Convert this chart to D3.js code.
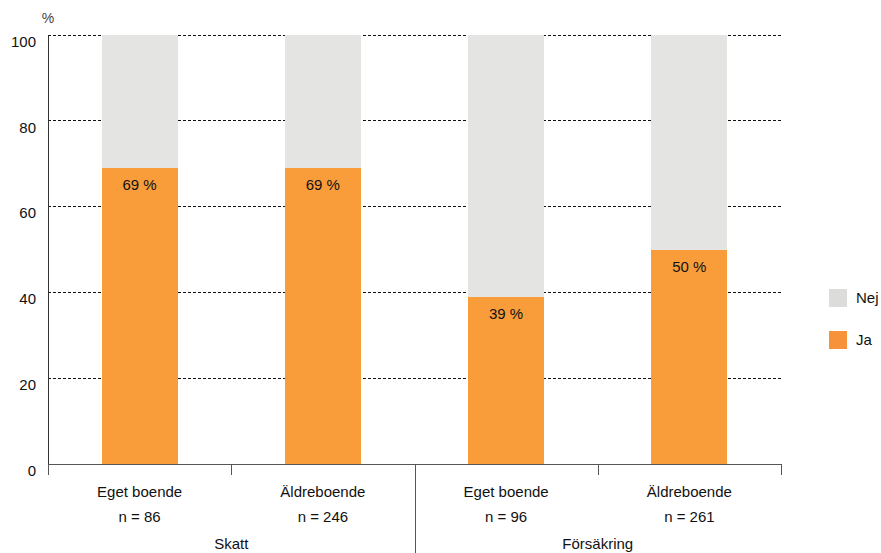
<!DOCTYPE html>
<html>
<head>
<meta charset="utf-8">
<script src="https://cdn.jsdelivr.net/npm/d3@7"></script>
<style>
  html, body { margin: 0; padding: 0; background: #fff; }
  svg { display: block; font-family: "Liberation Sans", Arial, sans-serif; }
</style>
</head>
<body>
<svg id="chart" width="881" height="553"></svg>
<script>
// Share answering "Ja" per housing type, grouped by insurance/tax question
const categories = ["Eget boende", "Äldreboende", "Eget boende", "Äldreboende"];
const sampleSizes = ["n = 86", "n = 246", "n = 96", "n = 261"];
const groups = ["Skatt", "Försäkring"];
const jaValues = [69, 69, 39, 50];
const nejValues = jaValues.map(v => 100 - v);
const yTicks = [0, 20, 40, 60, 80, 100];
const legendLabels = ["Nej", "Ja"];

const colors = { Ja: "#f99d3b", Nej: "#e4e4e2" };

const svg = d3.select("#chart");
const height = 553;
const x0 = 48, x1 = 781, yTop = 35, yBot = 464;
const FS = 15;

const keys = categories.map((c, i) => i);
const x = d3.scaleBand().domain(keys).range([x0, x1]).paddingInner(0).paddingOuter(0);
const y = d3.scaleLinear().domain([0, 100]).range([yBot, yTop]);

const barW = x.bandwidth() * 0.415;

// dotted gridlines
svg.append("g").selectAll("line")
  .data(yTicks.filter(t => t > 0))
  .join("line")
  .attr("x1", x0).attr("x2", x1)
  .attr("y1", d => y(d)).attr("y2", d => y(d))
  .attr("stroke", "#111").attr("stroke-width", 1)
  .attr("stroke-dasharray", "3,2")
  .attr("shape-rendering", "crispEdges");

// stacked bars
const rows = keys.map(i => ({ i, Ja: jaValues[i], Nej: nejValues[i] }));
const stack = d3.stack().keys(["Ja", "Nej"])(rows);
svg.append("g").selectAll("g")
  .data(stack)
  .join("g")
  .attr("fill", d => colors[d.key])
  .selectAll("rect")
  .data(d => d)
  .join("rect")
  .attr("x", d => x(d.data.i) + (x.bandwidth() - barW) / 2)
  .attr("width", barW)
  .attr("y", d => y(d[1]))
  .attr("height", d => y(d[0]) - y(d[1]))
  .attr("shape-rendering", "crispEdges");

// value labels inside Ja segments
svg.append("g").selectAll("text")
  .data(rows)
  .join("text")
  .attr("x", d => x(d.i) + x.bandwidth() / 2)
  .attr("y", d => y(d.Ja) + 22)
  .attr("text-anchor", "middle")
  .attr("font-size", FS)
  .attr("fill", "#111")
  .text(d => d.Ja + " %");

// y axis
const yAxis = d3.axisLeft(y).tickValues(yTicks).tickSize(0).tickPadding(12);
const yg = svg.append("g").attr("transform", `translate(${x0},0)`).call(yAxis);
yg.select(".domain").attr("stroke", "#333");
yg.selectAll("text").attr("font-size", FS).attr("fill", "#111")
  .attr("dy", "0.75em")
  .attr("font-family", "Liberation Sans, Arial, sans-serif");

svg.append("text")
  .attr("x", 48).attr("y", 23)
  .attr("text-anchor", "middle")
  .attr("font-size", 14).attr("fill", "#444")
  .text("%");

// x axis baseline and ticks
svg.append("line")
  .attr("x1", x0).attr("x2", x1).attr("y1", yBot).attr("y2", yBot)
  .attr("stroke", "#555").attr("shape-rendering", "crispEdges");

const boundaries = keys.map(i => x(i)).concat([x1]);
svg.append("g").selectAll("line")
  .data(boundaries)
  .join("line")
  .attr("x1", d => Math.round(d) + 0.5).attr("x2", d => Math.round(d) + 0.5)
  .attr("y1", yBot)
  .attr("y2", (d, i) => i === 2 ? height : yBot + 11)
  .attr("stroke", "#555");

// category labels
const catG = svg.append("g").attr("font-size", FS).attr("fill", "#111").attr("text-anchor", "middle");
catG.selectAll("text.cat")
  .data(keys)
  .join("text")
  .attr("class", "cat")
  .attr("x", i => x(i) + x.bandwidth() / 2)
  .attr("y", 497)
  .text(i => categories[i]);
catG.selectAll("text.n")
  .data(keys)
  .join("text")
  .attr("class", "n")
  .attr("x", i => x(i) + x.bandwidth() / 2)
  .attr("y", 522)
  .text(i => sampleSizes[i]);

// group labels
catG.selectAll("text.grp")
  .data(groups)
  .join("text")
  .attr("class", "grp")
  .attr("x", (g, j) => (x(j * 2) + x(j * 2 + 1) + x.bandwidth()) / 2)
  .attr("y", 549)
  .text(g => g);

// legend
const legend = svg.append("g");
legendLabels.forEach((lab, j) => {
  const ly = 289 + j * 42;
  legend.append("rect")
    .attr("x", 829).attr("y", ly).attr("width", 18).attr("height", 18)
    .attr("fill", lab === "Ja" ? "#f7923a" : "#dcdcda");
  legend.append("text")
    .attr("x", 856).attr("y", ly + 14)
    .attr("font-size", FS).attr("fill", "#111")
    .text(lab);
});
</script>
</body>
</html>
